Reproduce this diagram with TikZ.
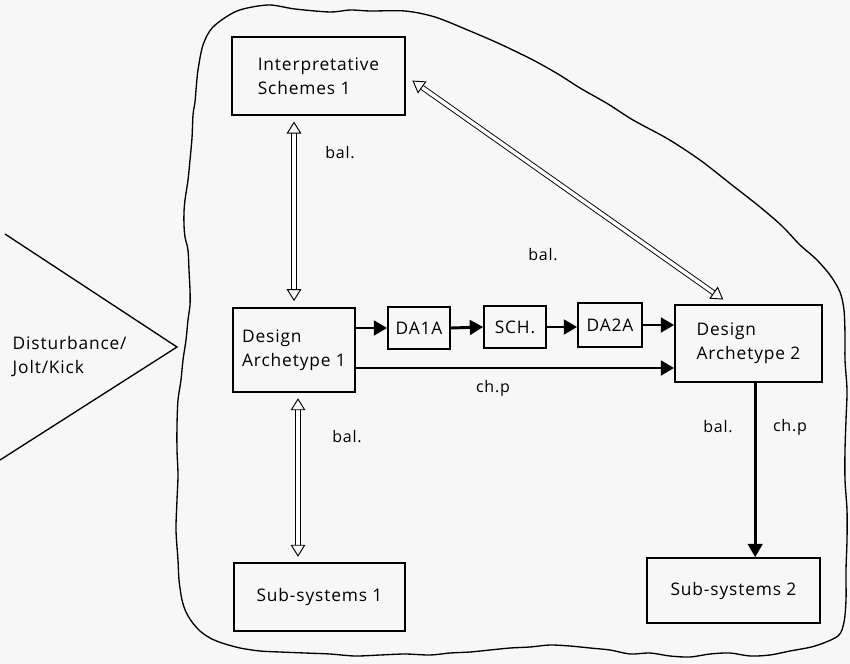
\documentclass[tikz,border=0pt]{standalone}
\usepackage{fontspec}
\setmainfont{Open Sans}[LetterSpace=5]
\usetikzlibrary{arrows.meta,calc}
\begin{document}
\begin{tikzpicture}[x=0.75pt,y=-0.75pt,
  box/.style={draw, line width=1.3pt, inner sep=0pt, align=left,
    font=\fontsize{13}{18}\selectfont},
  flow/.style={line width=2.2pt, -{Triangle[length=10pt,width=11pt]}},
  balance/.style={double, double distance=2.6pt, line width=0.7pt,
    {Triangle[open,length=9pt,width=11pt]}-{Triangle[open,length=9pt,width=11pt]}},
  lbl/.style={font=\fontsize{12}{14}\selectfont}]

\useasboundingbox (0,0) rectangle (850,664);
\fill[white!97!black] (0,0) rectangle (850,664);

% the organisation boundary, a hand-drawn wavy outline
\draw[line width=1pt] plot[smooth cycle, tension=0.5] coordinates {
  (198,70) (203,45) (213,27) (237,11) (268,5) (295,9) (330,12) (350,10) (370,11)
  (405,11) (435,17) (470,31) (500,44) (533,60) (558,74) (580,88) (608,104) (633,120)
  (668,139) (700,160) (732,185) (760,207) (782,226) (800,245) (816,259) (830,275)
  (840,292) (844,310) (845,335) (845,360) (847,390) (846,420) (845,450) (845,480)
  (847,510) (847,540) (846,570) (846,600) (844,622) (838,636) (815,646) (790,651)
  (770,655) (750,656) (730,653) (710,654) (690,657) (670,656) (650,653) (630,654)
  (610,650) (590,648) (570,646) (550,645) (530,647) (510,648) (490,650) (470,652)
  (450,653) (430,655) (405,654) (380,655) (355,656) (330,654) (305,653) (280,652)
  (260,651) (240,648) (222,643) (210,638) (200,631) (192,622) (186,612) (182,600)
  (179,580) (178,560) (176,530) (177,500) (178,475) (177,450) (177,425) (178,400)
  (181,380) (183,360) (186,340) (188,320) (190,305) (190,290) (189,270) (188,250)
  (185,237) (184,225) (184,212) (185,200) (188,180) (190,160) (192,138) (193,115)
  (195,102) (196,90)};

% disturbance wedge
\coordinate (wtop) at (5,234);
\coordinate (wtip) at (177,347);
\coordinate (wbot) at (0,460);
\draw[line width=1pt] (wtop) -- (wtip) -- (wbot);
\node[anchor=west, align=left, font=\fontsize{13}{18}\selectfont] (dist) at (8,357)
  {Disturbance/\\Jolt/Kick};

% boxes
\node[box, minimum width=129.75pt, minimum height=58pt]   (is1)  at (318.5,76)  {Interpretative\\Schemes 1};
\node[box, minimum width=91.5pt,   minimum height=63pt]   (da1)  at (294,350)   {Design\\Archetype 1};
\node[box, minimum width=46.5pt,   minimum height=31.5pt] (da1a) at (419,328)   {DA1A};
\node[box, minimum width=46.5pt,   minimum height=31.5pt] (sch)  at (515,327)   {SCH.};
\node[box, minimum width=48pt,     minimum height=33pt]   (da2a) at (610,325)   {DA2A};
\node[box, minimum width=110.25pt, minimum height=57.75pt](da2)  at (748.5,343.5){Design\\Archetype 2};
\node[box, minimum width=128.25pt, minimum height=51pt]   (ss1)  at (319.5,597) {Sub-systems 1};
\node[box, minimum width=129.75pt, minimum height=48.75pt](ss2)  at (733.5,590.5){Sub-systems 2};

% change path
\draw[flow] (da1a.west -| da1.east) -- (da1a.west);
\draw[flow] (da1a.east) -- (sch.west);
\draw[flow] (sch.east) -- (sch.east -| da2a.west);
\draw[flow] (da2a.east) -- (da2a.east -| da2.west);
\draw[flow] ([yshift=-13.5pt]da1.east) -- ([yshift=-13.5pt]da1.east -| da2.west);
\draw[flow] ([xshift=5pt]da2.south) -- ([xshift=5pt]da2.south |- ss2.north);

% balance links
\draw[balance, shorten <=4.5pt, shorten >=4.5pt] (is1.south -| da1.north) -- (da1.north);
\draw[balance, shorten <=4pt, shorten >=4pt] ([xshift=3pt]da1.south) -- ([xshift=3pt]da1.south |- ss1.north);
\draw[balance, shorten <=6pt, shorten >=6pt] (is1.east) -- ([xshift=-14pt]da2.north);

% labels
\node[lbl] (l1) at (340,153) {bal.};
\node[lbl] (l2) at (543,255) {bal.};
\node[lbl] (l3) at (347,437) {bal.};
\node[lbl] (l4) at (718,427) {bal.};
\node[lbl] (l5) at (493,388) {ch.p};
\node[lbl] (l6) at (790,427) {ch.p};
\end{tikzpicture}
\end{document}
